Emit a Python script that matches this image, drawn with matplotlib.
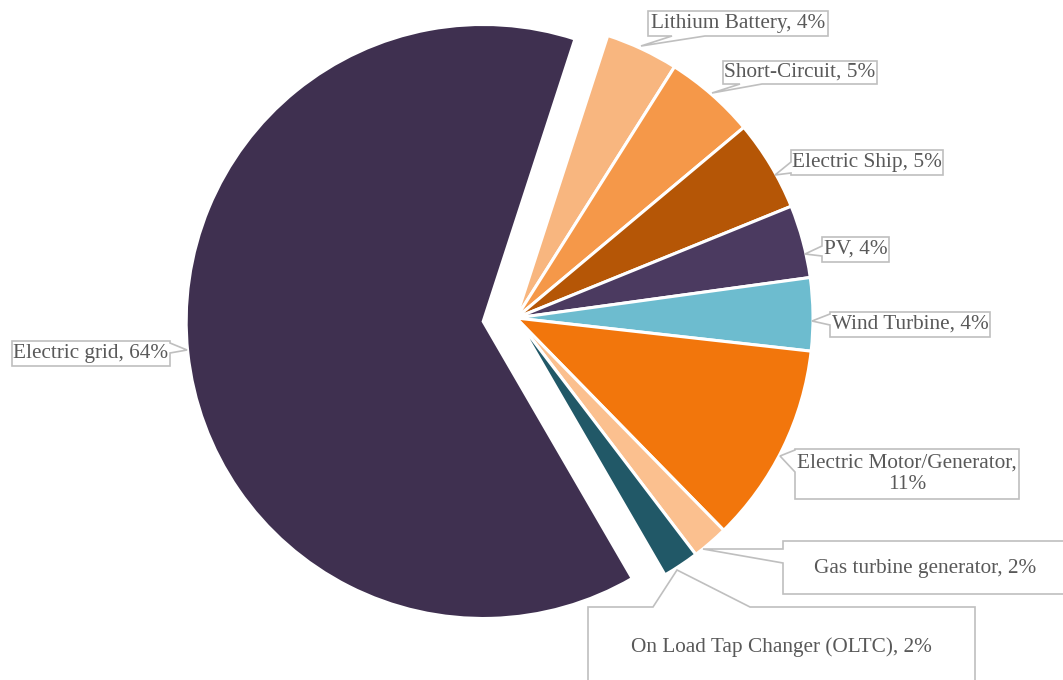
import matplotlib.pyplot as plt
from matplotlib.patches import Polygon

# Share of each application area (%)
names = ["Lithium Battery", "Short-Circuit", "Electric Ship", "PV", "Wind Turbine",
         "Electric Motor/Generator", "Gas turbine generator",
         "On Load Tap Changer (OLTC)", "Electric grid"]
shares = [4, 5, 5, 4, 4, 11, 2, 2, 64]
colors = ["#F8B67F", "#F59849", "#B55606", "#4B3A60", "#6DBCCF",
          "#F2760C", "#FBC08F", "#215867", "#3F3050"]
# pull-out distance of each slice (pixels, since the axes work in pixels)
explode = [0, 0, 0, 0, 0, 0, 0, 0, 33]

W, H = 1063, 680
fig = plt.figure(figsize=(W / 100, H / 100), dpi=100)
ax = fig.add_axes([0, 0, 1, 1])

ax.pie(shares, colors=colors, explode=explode, startangle=72, counterclock=False,
       center=(516, H - 318), radius=297,
       wedgeprops=dict(edgecolor="white", linewidth=2.2))

ax.set_xlim(0, W)
ax.set_ylim(0, H)
ax.set_aspect("equal")
ax.axis("off")


def callout(text, box, side, base, tip, tx=None, ty=None):
    # box = (left, top, right, bottom) in pixel units from the top-left corner
    l, t, r, b = box
    p1, p2 = base
    pts = [(l, t)]
    if side == "top":
        pts += [(p1, t), tip, (p2, t)]
    pts.append((r, t))
    if side == "right":
        pts += [(r, p1), tip, (r, p2)]
    pts.append((r, b))
    if side == "bottom":
        pts += [(p2, b), tip, (p1, b)]
    pts.append((l, b))
    if side == "left":
        pts += [(l, p2), tip, (l, p1)]
    pts = [(x, H - y) for x, y in pts]
    ax.add_patch(Polygon(pts, closed=True, facecolor="white", edgecolor="#BFBFBF",
                         linewidth=1.2, zorder=5, clip_on=False))
    cx = (l + r) / 2 if tx is None else tx
    cy = (t + b) / 2 if ty is None else ty
    ax.text(cx, H - cy, text, ha="center", va="center", fontsize=15.3,
            family="Liberation Serif", color="#595959", zorder=6,
            linespacing=1.15)


labels = [f"{n}, {v}%" for n, v in zip(names, shares)]
labels[5] = f"{names[5]},\n{shares[5]}%"

callout(labels[0], (648, 11, 828, 36), "bottom", (672, 705), (641, 46))
callout(labels[1], (723, 61, 877, 84), "bottom", (740, 762), (712, 93))
callout(labels[2], (791, 150, 943, 175), "left", (162, 173), (775, 175))
callout(labels[3], (822, 237, 889, 262), "left", (246, 256), (805, 254))
callout(labels[4], (830, 312, 990, 337), "left", (314, 325), (812, 321))
callout(labels[5], (795, 449, 1019, 499), "left", (450, 472), (780, 456))
callout(labels[6], (783, 541, 1075, 594), "left", (549, 563), (703, 549), tx=925, ty=569)
callout(labels[7], (588, 607, 975, 695), "top", (653, 750), (677, 570), ty=647)
callout(labels[8], (12, 341, 170, 366), "right", (343, 353), (187, 350))

fig.savefig("out.png", dpi=100)
